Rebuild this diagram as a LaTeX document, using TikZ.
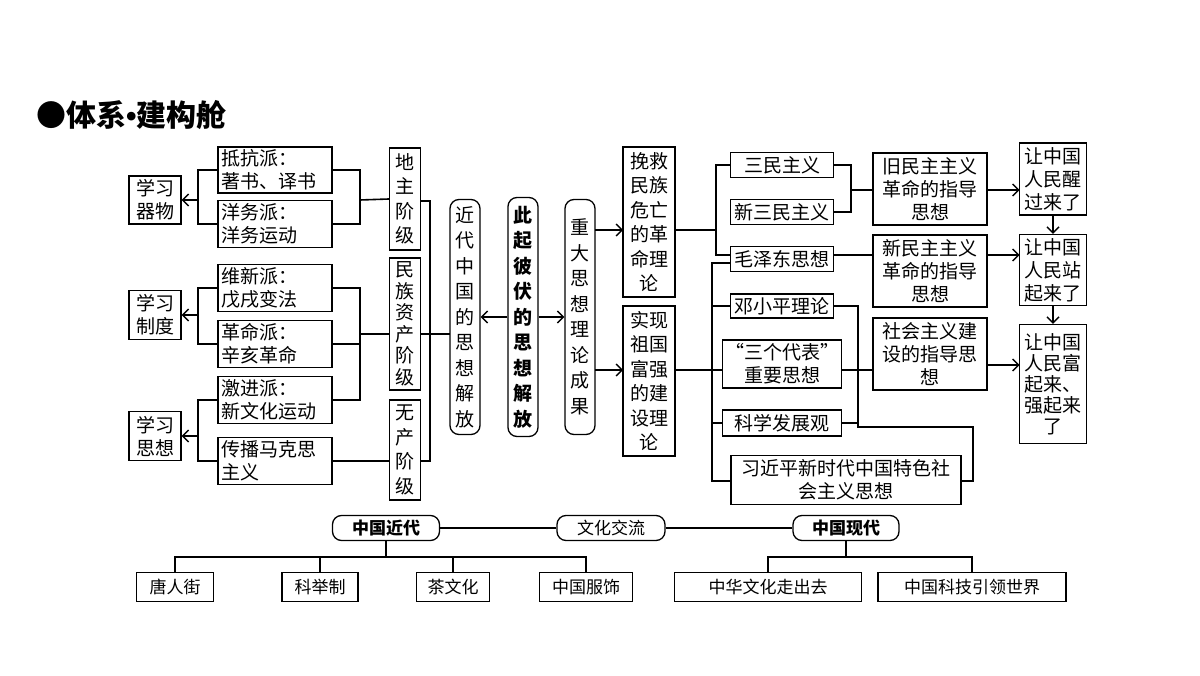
\documentclass[tikz,border=0pt]{standalone}
\usepackage{fontspec}
\setmainfont{Noto Sans CJK SC}
\newfontfamily\latinf{Liberation Sans}
\usetikzlibrary{arrows.meta}
\begin{document}
\begin{tikzpicture}[x=1pt,y=-1pt,
  box/.style={draw,fill=white,line width=1.3pt,inner sep=1pt,align=center,font=\fontsize{19}{23}\selectfont},
  vbox/.style={box,font=\fontsize{19}{24.5}\selectfont},
  rbox/.style={box,rounded corners=9pt},
  ln/.style={line width=1.6pt},
  arr/.style={ln,-{Straight Barb[length=6pt,width=12pt,line width=1.4pt]}},
  bb/.style={box,font=\fontsize{17}{20}\selectfont}]
\fill[white] (0,0) rectangle (1200,676);
\useasboundingbox (0,0) rectangle (1200,676);
\node[anchor=west,font=\fontsize{30}{32}\selectfont\bfseries,inner sep=0] (title) at (36,115) {●体系{\latinf\bfseries\char"2022}建构舱};
% left
\node[box,minimum width=52,minimum height=48] (xq) at (155,200) {学习\\器物};
\node[box,minimum width=52,minimum height=49] (xz) at (155,315) {学习\\制度};
\node[box,minimum width=52,minimum height=49] (xs) at (155,436) {学习\\思想};
\node[box,minimum width=114,minimum height=46,align=left,text width=108] (dk) at (275,170) {抵抗派：\\著书、译书};
\node[box,minimum width=114,minimum height=47,align=left,text width=108] (yw) at (275,224) {洋务派：\\洋务运动};
\node[box,minimum width=114,minimum height=47,align=left,text width=108] (wx) at (275,288) {维新派：\\戊戌变法};
\node[box,minimum width=114,minimum height=47,align=left,text width=108] (gm) at (275,344) {革命派：\\辛亥革命};
\node[box,minimum width=114,minimum height=47,align=left,text width=108] (jj) at (275,400) {激进派：\\新文化运动};
\node[box,minimum width=114,minimum height=47,align=left,text width=108] (cb) at (275,461) {传播马克思\\主义};
\node[vbox,minimum width=31,minimum height=102] (dz) at (405,199) {地\\主\\阶\\级};
\node[box,minimum width=31,minimum height=132,font=\fontsize{19}{21.5}\selectfont] (mz) at (405,324) {民\\族\\资\\产\\阶\\级};
\node[vbox,minimum width=31,minimum height=100] (wc) at (405,450) {无\\产\\阶\\级};
\node[rbox,minimum width=30,minimum height=235,font=\fontsize{19}{25.5}\selectfont] (jd) at (465,317) {近\\代\\中\\国\\的\\思\\想\\解\\放};
\node[rbox,minimum width=30,minimum height=239,font=\fontsize{19}{25.5}\selectfont\bfseries] (cq) at (523,317) {此\\起\\彼\\伏\\的\\思\\想\\解\\放};
\node[rbox,minimum width=30,minimum height=235,font=\fontsize{19}{25.5}\selectfont] (zd) at (580,317) {重\\大\\思\\想\\理\\论\\成\\果};
% left connectors
\draw[ln] (dk.west) -- (198,170) -- (198,224) -- (yw.west);
\draw[arr] (198,200) -- (xq.east);
\draw[ln] (dk.east) -- (360,170) -- (360,224) -- (yw.east);
\draw[ln] (360,200) -- (dz.west);
\draw[ln] (wx.west) -- (198,288) -- (198,344) -- (gm.west);
\draw[arr] (198,315) -- (xz.east);
\draw[ln] (wx.east) -- (360,288) -- (360,400) -- (jj.east);
\draw[ln] (gm.east) -- (360,344);
\draw[ln] (360,334) -- (389.5,334);
\draw[ln] (jj.west) -- (198,400) -- (198,461) -- (cb.west);
\draw[arr] (198,436) -- (xs.east);
\draw[ln] (cb.east) -- (389.5,461);
\draw[ln] (420.5,201) -- (430,201) -- (430,461) -- (420.5,461);
\draw[ln] (420.5,334) -- (450,334);
\draw[arr] (cq.west) -- (jd.east);
\draw[arr] (cq.east) -- (zd.west);
% middle right
\node[vbox,minimum width=52,minimum height=150] (wj) at (649,222) {挽救\\民族\\危亡\\的革\\命理\\论};
\node[vbox,minimum width=52,minimum height=150] (sx) at (649,381) {实现\\祖国\\富强\\的建\\设理\\论};
\node[box,minimum width=103,minimum height=25] (sm) at (782,165) {三民主义};
\node[box,minimum width=103,minimum height=25] (xsm) at (782,212) {新三民主义};
\node[box,minimum width=103,minimum height=25] (mzd) at (782,259) {毛泽东思想};
\node[box,minimum width=103,minimum height=24] (dxp) at (782,306) {邓小平理论};
\node[box,minimum width=119,minimum height=48] (sgdb) at (782,364) {“三个代表”\\重要思想};
\node[box,minimum width=119,minimum height=26] (kx) at (782,423) {科学发展观};
\node[box,minimum width=230,minimum height=49] (xjp) at (846,480) {习近平新时代中国特色社\\会主义思想};
\node[box,minimum width=114,minimum height=72] (jm) at (930,189) {旧民主主义\\革命的指导\\思想};
\node[box,minimum width=114,minimum height=72] (xm) at (930,271) {新民主主义\\革命的指导\\思想};
\node[box,minimum width=114,minimum height=72] (sh) at (930,354) {社会主义建\\设的指导思\\想};
\node[box,minimum width=67,minimum height=72] (xing) at (1053,179) {让中国\\人民醒\\过来了};
\node[box,minimum width=67,minimum height=71] (zhan) at (1053,270) {让中国\\人民站\\起来了};
\node[box,minimum width=67,minimum height=119,font=\fontsize{19}{21}\selectfont] (fu) at (1053,384) {让中国\\人民富\\起来、\\强起来\\了};
\draw[arr] (595,230) -- (623,230);
\draw[arr] (595,370) -- (623,370);
\draw[ln] (675,230) -- (716,230);
\draw[ln] (sm.west) -- (716,165) -- (716,255) -- (730.5,255);
\draw[ln] (675,370) -- (722.5,370);
\draw[ln] (841.5,370) -- (873,370);
\draw[ln] (730.5,263) -- (712,263) -- (712,481) -- (730.5,481);
\draw[ln] (712,306) -- (dxp.west);
\draw[ln] (712,423) -- (kx.west);
\draw[ln] (sm.east) -- (851,165) -- (851,212) -- (xsm.east);
\draw[ln] (851,190) -- (873,190);
\draw[ln] (833.5,255) -- (873,255);
\draw[ln] (dxp.east) -- (858,306) -- (858,427) -- (973,427) -- (973,481) -- (961,481);
\draw[ln] (kx.east) -- (858,423);
\draw[arr] (987,190) -- (1019.5,190);
\draw[arr] (987,255) -- (1019.5,255);
\draw[arr] (987,365) -- (1019.5,365);
\draw[arr] (xing.south) -- (zhan.north);
\draw[arr] (zhan.south) -- (fu.north);
% bottom
\node[rbox,minimum width=107,minimum height=25,font=\fontsize{17}{20}\selectfont\bfseries] (jdb) at (386,528) {中国近代};
\node[rbox,minimum width=108,minimum height=25,font=\fontsize{17}{20}\selectfont] (whjl) at (611,528) {文化交流};
\node[rbox,minimum width=106,minimum height=25,font=\fontsize{17}{20}\selectfont\bfseries] (xdb) at (846,528) {中国现代};
\draw[ln] (jdb.east) -- (whjl.west);
\draw[ln] (whjl.east) -- (xdb.west);
\node[bb,minimum width=77,minimum height=29] (tr) at (175,587) {唐人街};
\node[bb,minimum width=76,minimum height=29] (kj) at (320,587) {科举制};
\node[bb,minimum width=73,minimum height=29] (cwh) at (453,587) {茶文化};
\node[bb,minimum width=93,minimum height=29] (fs) at (586,587) {中国服饰};
\node[bb,minimum width=187,minimum height=29] (zh) at (768,587) {中华文化走出去};
\node[bb,minimum width=188,minimum height=29] (kj2) at (972,587) {中国科技引领世界};
\draw[ln] (jdb.south) -- (386,557);
\draw[ln] (tr.north) -- (175,557) -- (586,557) -- (fs.north);
\draw[ln] (kj.north) -- (320,557);
\draw[ln] (cwh.north) -- (453,557);
\draw[ln] (xdb.south) -- (846,557);
\draw[ln] (zh.north) -- (768,557) -- (972,557) -- (kj2.north);
\end{tikzpicture}
\end{document}
